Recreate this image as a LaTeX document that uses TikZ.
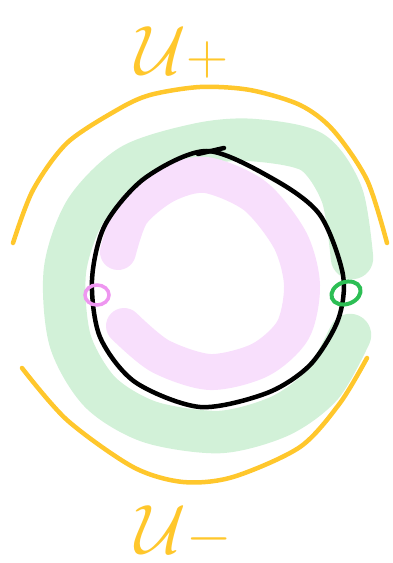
\documentclass[tikz,border=0pt]{standalone}
\usepackage{tikz}
\definecolor{sketchyellow}{RGB}{255,199,44}
\definecolor{bandgreen}{RGB}{210,241,216}
\definecolor{bandpink}{RGB}{248,223,252}
\definecolor{ringpink}{RGB}{238,150,240}
\definecolor{ringgreen}{RGB}{44,190,84}
\tikzset{
      blackpen/.style={
        draw=black,
        line width=0.09cm,
        line cap=round,
        line join=round
      },
      yellowpen/.style={
        draw=sketchyellow,
        line width=0.09cm,
        line cap=round,
        line join=round
      },
      greenband/.style={
        draw=bandgreen,
        line width=0.85cm,
        line cap=round,
        line join=round
      },
      pinkband/.style={
        draw=bandpink,
        line width=0.72cm,
        line cap=round,
        line join=round
      },
      setlabel/.style={
        text=sketchyellow,
        font=\Huge,
        scale=1.6,
        transform shape,
        inner sep=0pt
      }
    }
\begin{document}
\begin{tikzpicture}[x=0.02cm,y=-0.02cm]
    \useasboundingbox (0,0) rectangle (392,563);
    % shaded bands
    \draw[greenband] plot[smooth] coordinates {(352,258) (342,195) (312,152) (252,140) (200,144) (132,165) (86,210) (65,270) (70,340) (100,392) (150,422) (220,432) (280,416) (322,385) (350,335)};
    \draw[pinkband] plot[smooth] coordinates {(118,252) (132,213) (166,185) (206,175) (255,196) (290,240) (302,285) (293,330) (260,360) (210,372) (160,356) (124,326)};
    % the circle
    \draw[blackpen] plot[smooth cycle] coordinates {(207,151) (145,178) (105,225) (92,280) (100,337) (135,382) (200,407) (267,393) (310,365) (338,320) (343,275) (320,215) (275,180)};
    \draw[blackpen] (198,154) -- (224,148);
    % the two sets
    \draw[yellowpen] plot[smooth] coordinates {(13,243) (33,190) (67,143) (117,110) (150,95) (200,87) (250,90) (300,105) (333,130) (367,180) (387,243)};
    \draw[yellowpen] plot[smooth] coordinates {(22,368) (67,420) (133,467) (183,482) (233,477) (300,447) (340,403) (367,358)};
    \node[setlabel] (uplus) at (182,52) {$\mathcal{U}{\scriptstyle+}$};
    \node[setlabel] (uminus) at (184,532) {$\mathcal{U}{\scriptstyle-}$};
    % marked points
    \draw[draw=ringpink, line width=0.07cm] (97,295) ellipse [x radius=12, y radius=10];
    \draw[draw=ringgreen, line width=0.08cm, rotate around={20:(346,293)}] (346,293) ellipse [x radius=15, y radius=11];
\end{tikzpicture}
\end{document}
